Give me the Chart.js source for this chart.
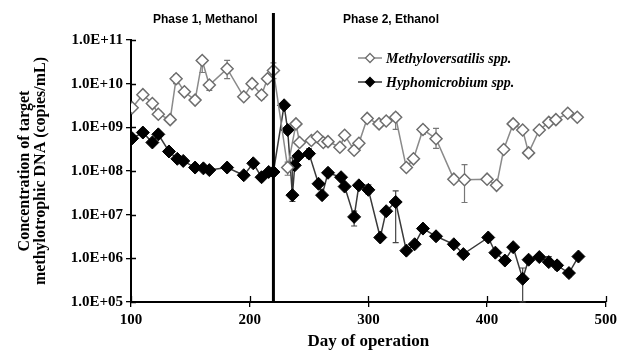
<!DOCTYPE html>
<html lang="en">
<head>
<meta charset="UTF-8" />
<title>Methylotrophic DNA</title>
<script src="https://cdn.jsdelivr.net/npm/chart.js"></script>
<style>
  html, body { margin: 0; padding: 0; background: #fff; }
  #wrap { width: 621px; height: 352px; }
</style>
</head>
<body>
<div id="wrap"><canvas id="dnaChart" width="621" height="352"></canvas></div>
<script>
  // Methyloversatilis spp. (open diamonds)
  const methyloDays = [101, 110, 118, 123, 133, 138, 145, 154, 160, 166, 181, 195, 202, 210, 215, 220,
    232, 239, 242, 252, 257, 262, 266, 276, 280, 288, 292, 299, 309, 315, 323, 332, 338, 346, 357,
    372, 381, 400, 408, 414, 422, 430, 435, 444, 452, 458, 468, 476];
  const methyloCopies = [2.8e9, 5.6e9, 3.5e9, 2.0e9, 1.5e9, 1.3e10, 6.5e9, 4.2e9, 3.4e10, 9.3e9, 2.2e10, 5.0e9, 1.0e10, 5.5e9, 1.3e10, 2.0e10,
    1.2e8, 1.2e9, 4.5e8, 5.0e8, 6.0e8, 4.5e8, 4.7e8, 3.5e8, 6.6e8, 3.0e8, 4.3e8, 1.6e9, 1.2e9, 1.4e9, 1.7e9, 1.2e8, 1.9e8, 8.9e8, 5.5e8,
    6.5e7, 6.3e7, 6.5e7, 4.7e7, 3.1e8, 1.2e9, 8.7e8, 2.6e8, 8.7e8, 1.3e9, 1.5e9, 2.1e9, 1.7e9];

  // Hyphomicrobium spp. (filled diamonds)
  const hyphoDays = [101, 110, 118, 123, 132, 139, 144, 154, 161, 166, 181, 195, 203, 210, 216, 220,
    229, 232, 236, 238, 241, 250, 258, 261, 266, 277, 280, 288, 292, 300, 310, 315, 323, 332, 339, 346, 357,
    372, 380, 401, 407, 415, 422, 430, 435, 444, 452, 459, 469, 477];
  const hyphoCopies = [5.6e8, 7.6e8, 4.5e8, 6.9e8, 2.8e8, 1.9e8, 1.7e8, 1.2e8, 1.15e8, 1.05e8, 1.2e8, 8.0e7, 1.5e8, 7.2e7, 9.5e7, 9.5e7,
    3.2e9, 8.7e8, 2.8e7, 1.35e8, 2.2e8, 2.5e8, 5.1e7, 2.8e7, 9.1e7, 7.2e7, 4.4e7, 8.9e6, 4.7e7, 3.7e7, 3.0e6, 1.2e7, 1.95e7, 1.5e6, 2.1e6, 4.8e6, 3.2e6,
    2.1e6, 1.25e6, 3.0e6, 1.35e6, 8.9e5, 1.8e6, 3.4e5, 9.3e5, 1.07e6, 8.2e5, 6.9e5, 4.6e5, 1.1e6];

  // error bars: [day, low, high]
  const methyloErrors = [[123, 1.7e9, 2.4e9], [138, 1.0e10, 1.6e10], [160, 1.8e10, 4.0e10], [166, 7.0e9, 1.1e10],
    [181, 1.3e10, 3.4e10], [210, 4.5e9, 6.5e9], [220, 1.3e10, 3.0e10], [232, 8.0e7, 1.6e8], [299, 1.3e9, 1.9e9],
    [323, 9.0e8, 2.1e9], [346, 7.0e8, 1.1e9], [357, 3.3e8, 9.5e8], [381, 1.9e7, 1.4e8]];
  const hyphoErrors = [[236, 2.0e7, 2.0e8], [250, 2.0e8, 3.2e8], [288, 5.5e6, 1.2e7], [300, 3.0e7, 4.8e7],
    [323, 2.3e6, 3.5e7], [430, 1.0e5, 6.0e5], [452, 7.0e5, 1.1e6], [459, 5.5e5, 8.5e5], [469, 3.8e5, 5.5e5]];

  const xTicks = [100, 200, 300, 400, 500];
  const yTicks = [1e5, 1e6, 1e7, 1e8, 1e9, 1e10, 1e11];
  const phaseSwitchDay = 220;

  const serif = "'Liberation Serif', 'Times New Roman', serif";
  const sans = "'Liberation Sans', Arial, sans-serif";

  function toPoints(days, values) {
    return days.map((d, i) => ({ x: d, y: values[i] }));
  }

  const extras = {
    id: 'extras',
    beforeDatasetsDraw(chart) {
      const ctx = chart.ctx, xs = chart.scales.x, ys = chart.scales.y;
      const bars = [[methyloErrors, '#777'], [hyphoErrors, '#444']];
      ctx.save();
      ctx.lineWidth = 1.2;
      bars.forEach(([list, color]) => {
        ctx.strokeStyle = color;
        list.forEach(([d, lo, hi]) => {
          const x = xs.getPixelForValue(d);
          const y1 = ys.getPixelForValue(lo), y2 = ys.getPixelForValue(hi);
          ctx.beginPath();
          ctx.moveTo(x, y1); ctx.lineTo(x, y2);
          ctx.moveTo(x - 3, y1); ctx.lineTo(x + 3, y1);
          ctx.moveTo(x - 3, y2); ctx.lineTo(x + 3, y2);
          ctx.stroke();
        });
      });
      ctx.restore();
    },
    afterDraw(chart) {
      const ctx = chart.ctx, xs = chart.scales.x, ys = chart.scales.y;
      const area = chart.chartArea;
      ctx.save();
      // inner half of the tick marks
      ctx.strokeStyle = '#000';
      ctx.lineWidth = 1.3;
      ctx.beginPath();
      yTicks.forEach(v => {
        const y = Math.round(ys.getPixelForValue(v)) + 0.5;
        ctx.moveTo(area.left, y); ctx.lineTo(area.left + 5, y);
      });
      xTicks.forEach(v => {
        const x = Math.round(xs.getPixelForValue(v)) + 0.5;
        ctx.moveTo(x, area.bottom); ctx.lineTo(x, area.bottom - 6);
      });
      ctx.stroke();

      // phase divider
      const px = xs.getPixelForValue(phaseSwitchDay);
      ctx.lineWidth = 3;
      ctx.beginPath();
      ctx.moveTo(px, 13); ctx.lineTo(px, area.bottom);
      ctx.stroke();

      ctx.fillStyle = '#000';
      ctx.font = 'bold 12px ' + sans;
      ctx.textBaseline = 'middle';
      ctx.textAlign = 'left';
      ctx.fillText('Phase 1, Methanol', 153, 20);
      ctx.fillText('Phase 2, Ethanol', 343, 20);

      // legend
      const entries = [
        ['Methyloversatilis spp.', '#8a8a8a', '#fff', '#6e6e6e', 58],
        ['Hyphomicrobium spp.', '#333', '#000', '#000', 82]
      ];
      entries.forEach(([label, line, fill, edge, y]) => {
        ctx.strokeStyle = line;
        ctx.lineWidth = 1.5;
        ctx.beginPath();
        ctx.moveTo(358, y); ctx.lineTo(382, y);
        ctx.stroke();
        ctx.beginPath();
        ctx.moveTo(370, y - 4.5); ctx.lineTo(374.5, y); ctx.lineTo(370, y + 4.5); ctx.lineTo(365.5, y);
        ctx.closePath();
        ctx.fillStyle = fill; ctx.fill();
        ctx.strokeStyle = edge; ctx.lineWidth = 1.3; ctx.stroke();
        ctx.fillStyle = '#000';
        ctx.font = 'italic bold 14px ' + serif;
        ctx.fillText(label, 386, y + 1);
      });
      ctx.restore();
    }
  };

  const ctx = document.getElementById('dnaChart').getContext('2d');
  new Chart(ctx, {
    type: 'line',
    data: {
      datasets: [
        {
          label: 'Methyloversatilis spp.',
          data: toPoints(methyloDays, methyloCopies),
          borderColor: '#8a8a8a',
          borderWidth: 1.5,
          pointStyle: 'rectRot',
          pointRadius: 6,
          pointBorderWidth: 1.5,
          pointBorderColor: '#6e6e6e',
          pointBackgroundColor: '#fff',
          tension: 0
        },
        {
          label: 'Hyphomicrobium spp.',
          data: toPoints(hyphoDays, hyphoCopies),
          borderColor: '#3a3a3a',
          borderWidth: 1.5,
          pointStyle: 'rectRot',
          pointRadius: 6.5,
          pointBorderWidth: 1,
          pointBorderColor: '#000',
          pointBackgroundColor: '#000',
          tension: 0
        }
      ]
    },
    options: {
      responsive: false,
      animation: false,
      devicePixelRatio: 1,
      layout: { padding: { top: 40, right: 14, left: 0, bottom: 0 } },
      plugins: { legend: { display: false }, tooltip: { enabled: false } },
      scales: {
        x: {
          type: 'linear',
          min: 100,
          max: 500,
          afterBuildTicks: s => { s.ticks = xTicks.map(v => ({ value: v })); },
          afterFit: s => { s.height = 50; },
          grid: { drawOnChartArea: false, drawTicks: true, tickLength: 5, color: '#000', lineWidth: 1.3 },
          border: { color: '#000', width: 2 },
          ticks: { color: '#000', padding: 4, maxRotation: 0, font: { family: serif, size: 15, weight: 'bold' } },
          title: {
            display: true,
            text: 'Day of operation',
            color: '#000',
            padding: { top: 2, bottom: 0 },
            font: { family: serif, size: 17, weight: 'bold' }
          }
        },
        y: {
          type: 'logarithmic',
          min: 1e5,
          max: 1e11,
          afterBuildTicks: s => { s.ticks = yTicks.map(v => ({ value: v })); },
          afterFit: s => { s.width = 131; },
          grid: { drawOnChartArea: false, drawTicks: true, tickLength: 5, color: '#000', lineWidth: 1.3 },
          border: { color: '#000', width: 2 },
          ticks: {
            color: '#000',
            padding: 3,
            font: { family: serif, size: 15, weight: 'bold' },
            callback: v => '1.0E+' + String(Math.round(Math.log10(v))).padStart(2, '0')
          },
          title: {
            display: true,
            text: ['Concentration of target', 'methylotrophic DNA (copies/mL)'],
            color: '#000',
            padding: { top: 17, bottom: 0 },
            font: { family: serif, size: 16, weight: 'bold', lineHeight: 1.0 }
          }
        }
      }
    },
    plugins: [extras]
  });
</script>
</body>
</html>
